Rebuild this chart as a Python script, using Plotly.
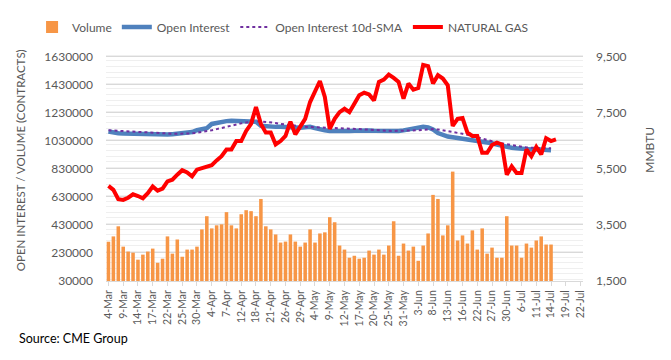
import plotly.graph_objects as go

dates = [
    "4-Mar", "7-Mar", "8-Mar", "9-Mar", "10-Mar", "11-Mar", "14-Mar", "15-Mar", "16-Mar", "17-Mar",
    "18-Mar", "21-Mar", "22-Mar", "23-Mar", "24-Mar", "25-Mar", "28-Mar", "29-Mar", "30-Mar", "31-Mar",
    "1-Apr", "4-Apr", "5-Apr", "6-Apr", "7-Apr", "8-Apr", "11-Apr", "12-Apr", "13-Apr", "14-Apr",
    "18-Apr", "19-Apr", "20-Apr", "21-Apr", "22-Apr", "25-Apr", "26-Apr", "27-Apr", "28-Apr", "29-Apr",
    "2-May", "3-May", "4-May", "5-May", "6-May", "9-May", "10-May", "11-May", "12-May", "13-May",
    "16-May", "17-May", "18-May", "19-May", "20-May", "23-May", "24-May", "25-May", "26-May", "27-May",
    "31-May", "1-Jun", "2-Jun", "3-Jun", "6-Jun", "7-Jun", "8-Jun", "9-Jun", "10-Jun", "13-Jun",
    "14-Jun", "15-Jun", "16-Jun", "17-Jun", "21-Jun", "22-Jun", "23-Jun", "24-Jun", "27-Jun", "28-Jun",
    "29-Jun", "30-Jun", "1-Jul", "5-Jul", "6-Jul", "7-Jul", "8-Jul", "11-Jul", "12-Jul", "13-Jul",
    "14-Jul", "15-Jul", "18-Jul", "19-Jul", "20-Jul", "21-Jul", "22-Jul",
]
tick_labels = dates[::3]

volume = [
    310000, 348000, 420000, 275000, 240000, 232000, 182000, 218000, 240000, 261000,
    160000, 189000, 348000, 225000, 326000, 203000, 254000, 254000, 275000, 398000,
    492000, 405000, 427000, 434000, 521000, 427000, 405000, 506000, 535000, 528000,
    492000, 615000, 420000, 398000, 362000, 304000, 311000, 362000, 311000, 275000,
    304000, 398000, 304000, 369000, 377000, 485000, 449000, 283000, 254000, 196000,
    210000, 189000, 196000, 247000, 218000, 254000, 218000, 283000, 456000, 210000,
    297000, 247000, 275000, 174000, 283000, 369000, 644000, 615000, 355000, 427000,
    810000, 319000, 355000, 297000, 391000, 254000, 405000, 225000, 268000, 196000,
    196000, 492000, 283000, 283000, 196000, 297000, 268000, 319000, 348000, 290000,
    290000,
]

open_interest = [
    1096000, 1088000, 1084000, 1082000, 1081000, 1078000, 1075000, 1072000, 1070000, 1071000,
    1072000, 1072000, 1074000, 1077000, 1080000, 1081000, 1081000, 1092000, 1105000, 1112000,
    1120000, 1150000, 1158000, 1166000, 1170000, 1173000, 1172000, 1168000, 1170000, 1173000,
    1165000, 1137000, 1132000, 1130000, 1129000, 1130000, 1128000, 1125000, 1120000, 1122000,
    1126000, 1130000, 1120000, 1110000, 1105000, 1100000, 1098000, 1096000, 1097000, 1100000,
    1102000, 1104000, 1105000, 1103000, 1101000, 1100000, 1099000, 1097000, 1096000, 1100000,
    1104000, 1110000, 1114000, 1117000, 1130000, 1125000, 1110000, 1085000, 1070000, 1060000,
    1055000, 1050000, 1045000, 1040000, 1036000, 1030000, 1026000, 1020000, 1012000, 1002000,
    992000, 986000, 980000, 976000, 972000, 969000, 968000, 969000, 967000, 965000,
    963000,
]

open_interest_sma = [
    1105000, 1103000, 1100000, 1098000, 1096000, 1093000, 1090000, 1087000, 1085000, 1083000,
    1081000, 1081000, 1081000, 1080000, 1080000, 1080000, 1081000, 1083000, 1087000, 1092000,
    1098000, 1105000, 1113000, 1122000, 1130000, 1137000, 1145000, 1154000, 1160000, 1165000,
    1168000, 1168000, 1166000, 1162000, 1157000, 1150000, 1145000, 1140000, 1136000, 1133000,
    1130000, 1128000, 1127000, 1126000, 1125000, 1123000, 1121000, 1120000, 1118000, 1116000,
    1115000, 1113000, 1111000, 1108000, 1106000, 1104000, 1102000, 1101000, 1100000, 1100000,
    1101000, 1102000, 1103000, 1105000, 1108000, 1112000, 1113000, 1110000, 1105000, 1100000,
    1095000, 1088000, 1080000, 1072000, 1064000, 1055000, 1045000, 1036000, 1027000, 1018000,
    1012000, 1005000, 998000, 992000, 987000, 982000, 980000, 978000, 977000, 976000,
    976000,
]

natural_gas = [
    4890, 4750, 4420, 4390, 4470, 4590, 4530, 4450, 4630, 4870,
    4720, 4790, 5050, 5110, 5290, 5450, 5370, 5230, 5470, 5530,
    5580, 5630, 5800, 5950, 6190, 6190, 6490, 6490, 6850, 7100,
    7700, 7100, 6790, 6790, 6370, 6490, 6670, 7180, 6730, 7030,
    7280, 7880, 8300, 8630, 8060, 6920, 7280, 7520, 7640, 7520,
    7820, 8120, 8210, 8150, 7940, 8600, 8680, 8860, 8740, 8600,
    8000, 8540, 8320, 8380, 9200, 9160, 8540, 8840, 8720, 8480,
    7030, 7280, 7310, 6790, 6670, 6670, 6070, 6070, 6350, 6430,
    6370, 5290, 5590, 5350, 5350, 6190, 5950, 6280, 6010, 6590,
    6490, 6550,
]

text_color = "#595959"
font_family = "Lato, Roboto, Arial, sans-serif"

fig = go.Figure()
fig.add_trace(go.Bar(
    x=dates[:len(volume)], y=volume, name="Volume",
    marker=dict(color="#F79646", line=dict(width=0)),
    yaxis="y",
))
fig.add_trace(go.Scatter(
    x=dates[:len(open_interest)], y=open_interest, name="Open Interest",
    mode="lines", line=dict(color="#4F81BD", width=4.5),
    yaxis="y",
))
fig.add_trace(go.Scatter(
    x=dates[:len(open_interest_sma)], y=open_interest_sma, name="Open Interest 10d-SMA",
    mode="lines", line=dict(color="#7030A0", width=2, dash="dot"),
    yaxis="y",
))
fig.add_trace(go.Scatter(
    x=dates[:len(natural_gas)], y=natural_gas, name="NATURAL GAS",
    mode="lines", line=dict(color="#FF0000", width=4),
    yaxis="y2",
))

# The page body keeps an 8px default margin, so the figure is 8px smaller
# and its margins are shifted to put the plot area at the reference position.
fig.update_layout(
    width=663, height=352,
    margin=dict(l=98, r=88, t=43, b=79, autoexpand=False),
    paper_bgcolor="white", plot_bgcolor="white",
    font=dict(family=font_family, color=text_color, size=12),
    bargap=0.28,
    showlegend=True,
    legend=dict(
        orientation="h", xref="paper", yref="paper",
        x=-0.155, xanchor="left", y=1.104, yanchor="middle",
        font=dict(size=12, color=text_color), itemwidth=30,
        bgcolor="rgba(0,0,0,0)",
    ),
    xaxis=dict(
        type="category", categoryorder="array", categoryarray=dates,
        range=[-0.5, len(dates) - 0.5],
        tickmode="array", tickvals=tick_labels, ticktext=tick_labels,
        tickangle=-90, tickfont=dict(size=10.5, color=text_color),
        showgrid=False, showline=True, linecolor="#d9d9d9", linewidth=1,
        ticks="outside", ticklen=4, tickcolor="#d9d9d9",
    ),
    yaxis=dict(
        range=[30000, 1670000], tick0=30000, dtick=200000,
        tickformat="d", showgrid=True, gridcolor="#d9d9d9", gridwidth=1,
        zeroline=False, tickfont=dict(size=12, color=text_color),
        minor=dict(dtick=40000, showgrid=True, gridcolor="#efefef", gridwidth=1),
        ticks="", ticklabelstandoff=12,
    ),
    yaxis2=dict(
        range=[1500, 9700], tick0=1500, dtick=2000, overlaying="y", side="right",
        tickformat=",d", showgrid=False, zeroline=False,
        tickfont=dict(size=12, color=text_color), ticks="", ticklabelstandoff=12,
    ),
    annotations=[
        dict(text="OPEN INTEREST / VOLUME (CONTRACTS)", xref="paper", yref="paper",
             x=-0.180, y=0.526, textangle=-90, showarrow=False,
             font=dict(size=11.5, color=text_color), xanchor="center", yanchor="middle"),
        dict(text="MMBTU", xref="paper", yref="paper",
             x=1.140, y=0.57, textangle=-90, showarrow=False,
             font=dict(size=12, color=text_color), xanchor="center", yanchor="middle"),
        dict(text="Source: CME Group", xref="paper", yref="paper",
             x=-0.187, y=-0.248, xanchor="left", yanchor="middle", showarrow=False,
             font=dict(size=12.5, color="#000000")),
    ],
)

fig.write_html("out.html")
